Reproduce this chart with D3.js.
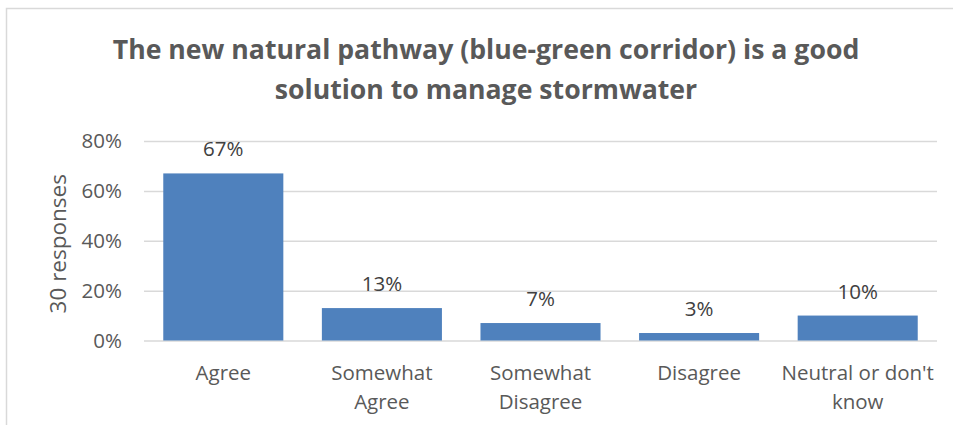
<!DOCTYPE html>
<html>
<head>
<meta charset="utf-8">
<script src="https://cdn.jsdelivr.net/npm/d3@7"></script>
<style>
  html, body { margin: 0; padding: 0; background: #fff; }
  svg { display: block; }
  text { font-family: "Open Sans", "Noto Sans", sans-serif; }
</style>
</head>
<body>
<svg id="chart" width="953" height="425"></svg>
<script>
// Survey answers: share of 30 responses (percent)
const categories = ["Agree", "Somewhat Agree", "Somewhat Disagree", "Disagree", "Neutral or don't know"];
const categoryLines = [["Agree"], ["Somewhat", "Agree"], ["Somewhat", "Disagree"], ["Disagree"], ["Neutral or don't", "know"]];
const values = [67, 13, 7, 3, 10];
const yTicks = [0, 20, 40, 60, 80];
const titleLines = ["The new natural pathway (blue-green corridor) is a good", "solution to manage stormwater"];
const yAxisTitle = "30 responses";

const W = 953, H = 425;
const textColor = "#595959";
const gridColor = "#D9D9D9";
const barColor = "#4F81BD";
const labelSize = 20.5;

const svg = d3.select("#chart");

// Chart area frame (left and top edges visible)
svg.append("rect")
  .attr("x", 6.5).attr("y", 8.5)
  .attr("width", W + 10).attr("height", H + 10)
  .attr("fill", "#fff")
  .attr("stroke", "#D9D9D9").attr("stroke-width", 1.5);

const plot = { left: 144, right: 937, top: 141, bottom: 340.5 };

const x = d3.scaleBand()
  .domain(categories)
  .range([plot.left, plot.right])
  .paddingInner(0.243)
  .paddingOuter(0.1215);

const y = d3.scaleLinear()
  .domain([0, 80])
  .range([plot.bottom, plot.top]);

// Title, sized so the first line spans its set width
const title = svg.append("g");
const t1 = title.append("text")
  .attr("x", 486).attr("y", 59)
  .attr("text-anchor", "middle")
  .attr("font-weight", "bold")
  .attr("font-size", 24)
  .attr("fill", textColor)
  .text(titleLines[0]);
const fitSize = 24 * 747 / t1.node().getComputedTextLength();
t1.attr("font-size", fitSize);
title.append("text")
  .attr("x", 486).attr("y", 99)
  .attr("text-anchor", "middle")
  .attr("font-weight", "bold")
  .attr("font-size", fitSize)
  .attr("fill", textColor)
  .text(titleLines[1]);

// Horizontal gridlines
svg.append("g")
  .attr("transform", `translate(${plot.left},0)`)
  .call(d3.axisLeft(y).tickValues(yTicks).tickSize(-(plot.right - plot.left)).tickFormat(""))
  .call(g => g.select(".domain").remove())
  .call(g => g.selectAll("line").attr("stroke", gridColor).attr("stroke-width", 1.5));

// Y tick labels
svg.append("g")
  .attr("transform", `translate(${plot.left},0)`)
  .call(d3.axisLeft(y).tickValues(yTicks).tickSize(0).tickPadding(22).tickFormat(d => d + "%"))
  .call(g => g.select(".domain").remove())
  .call(g => g.selectAll("text")
    .attr("fill", textColor)
    .attr("font-size", labelSize)
    .style("font-family", '"Open Sans", "Noto Sans", sans-serif'));

// Y axis title
svg.append("text")
  .attr("transform", `translate(66,${(plot.top + plot.bottom) / 2 + 3}) rotate(-90)`)
  .attr("text-anchor", "middle")
  .attr("font-size", 22.5)
  .attr("fill", textColor)
  .text(yAxisTitle);

// Bars
svg.append("g").selectAll("rect")
  .data(values)
  .join("rect")
  .attr("x", (d, i) => x(categories[i]))
  .attr("width", x.bandwidth())
  .attr("y", d => y(d))
  .attr("height", d => y(0) - y(d))
  .attr("fill", barColor);

// Value labels
svg.append("g").selectAll("text")
  .data(values)
  .join("text")
  .attr("x", (d, i) => x(categories[i]) + x.bandwidth() / 2)
  .attr("y", d => y(d) - 17)
  .attr("text-anchor", "middle")
  .attr("font-size", labelSize)
  .attr("fill", "#404040")
  .text(d => d + "%");

// Category labels (wrapped)
const catG = svg.append("g");
categoryLines.forEach((lines, i) => {
  const t = catG.append("text")
    .attr("x", x(categories[i]) + x.bandwidth() / 2)
    .attr("y", 380)
    .attr("text-anchor", "middle")
    .attr("font-size", labelSize)
    .attr("fill", textColor);
  lines.forEach((ln, j) => {
    t.append("tspan")
      .attr("x", x(categories[i]) + x.bandwidth() / 2)
      .attr("dy", j === 0 ? 0 : 28.5)
      .text(ln);
  });
});
</script>
</body>
</html>
